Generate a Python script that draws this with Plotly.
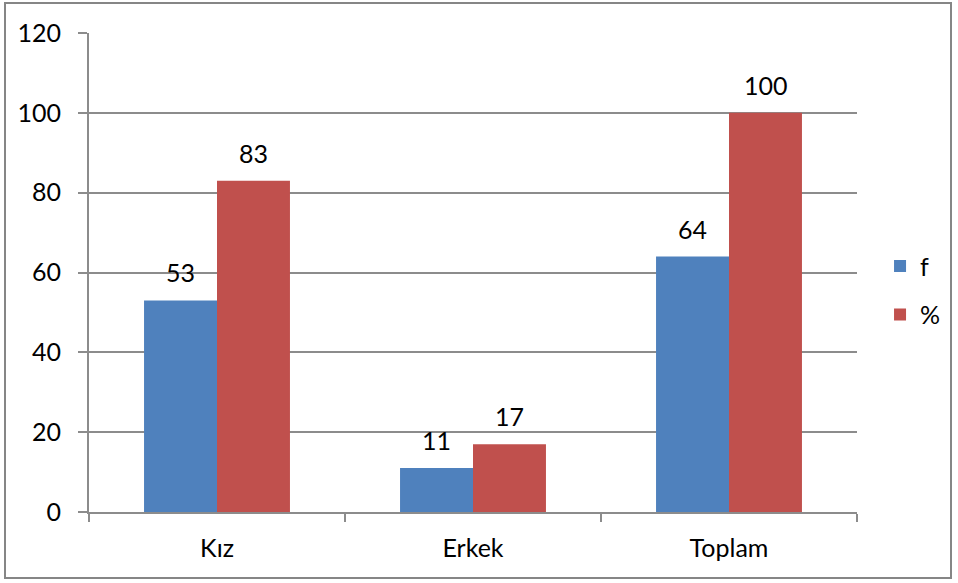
import plotly.graph_objects as go

# Data
categories = ['Kız', 'Erkek', 'Toplam']
f_values = [53, 11, 64]
pct_values = [83, 17, 100]
y_ticks = [0, 20, 40, 60, 80, 100, 120]

blue = '#4F81BD'
red = '#C0504D'
grid = '#8C8C8C'
font = dict(family='Lato, Noto Sans, sans-serif', size=25, color='black')

fig = go.Figure()
fig.add_trace(go.Bar(x=categories, y=f_values, name='f', marker=dict(color=blue, line=dict(width=0)),
                     legendgroup='f'))
fig.add_trace(go.Bar(x=categories, y=pct_values, name='%', marker=dict(color=red, line=dict(width=0)),
                     legendgroup='p'))

# data labels above each bar
for cat, fv, pv in zip(categories, f_values, pct_values):
    fig.add_annotation(x=cat, y=fv, text=str(fv), showarrow=False, xshift=-36.5, yshift=28,
                       font=font, xref='x', yref='y')
    fig.add_annotation(x=cat, y=pv, text=str(pv), showarrow=False, xshift=36.5, yshift=28,
                       font=font, xref='x', yref='y')

# outer chart border
fig.add_shape(type='rect', xref='paper', yref='paper',
              x0=(5 - 89) / 768, x1=(951 - 89) / 768,
              y0=(512 - 578) / 479, y1=(512 - 3) / 479,
              line=dict(color='#868686', width=2), fillcolor='rgba(0,0,0,0)', layer='below')

fig.update_layout(
    width=958, height=583,
    margin=dict(l=89, r=101, t=33, b=71, autoexpand=False),
    paper_bgcolor='white', plot_bgcolor='white',
    font=font,
    barmode='group', bargap=0.43, bargroupgap=0,
    showlegend=True,
    legend=dict(x=1.030, y=0.463, xanchor='left', yanchor='middle',
                tracegroupgap=13, itemwidth=30, font=font, bgcolor='rgba(0,0,0,0)'),
)
fig.update_xaxes(showline=True, linecolor=grid, linewidth=2, ticks='outside', tickson='boundaries',
                 ticklen=8, tickwidth=2, tickcolor=grid, showgrid=False, tickfont=font,
                 ticklabelstandoff=13)
fig.update_yaxes(range=[0, 120], tickvals=y_ticks, showline=True, linecolor=grid, linewidth=2,
                 ticks='outside', ticklen=9, tickwidth=2, tickcolor=grid, showgrid=True,
                 gridcolor=grid, gridwidth=2, zeroline=False, tickfont=font, ticklabelstandoff=12)

fig.write_html("out.html", config={'displayModeBar': False},
               post_script="document.body.style.margin='0';")
